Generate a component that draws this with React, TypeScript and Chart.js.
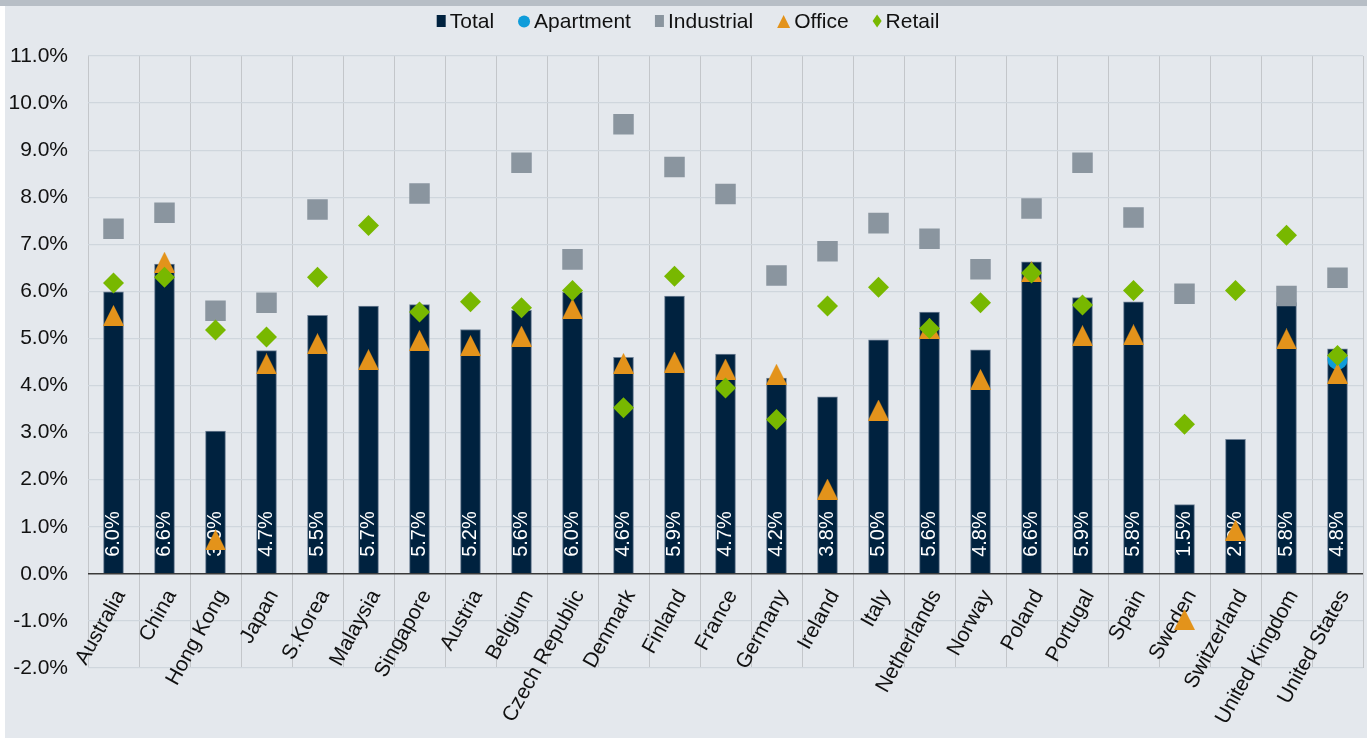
import React, { useEffect, useRef } from 'react';
import { Chart, registerables } from 'chart.js';

Chart.register(...registerables);

const FONT = "'Liberation Sans', Arial, Helvetica, sans-serif";

const categories = [
  'Australia', 'China', 'Hong Kong', 'Japan', 'S.Korea', 'Malaysia', 'Singapore',
  'Austria', 'Belgium', 'Czech Republic', 'Denmark', 'Finland', 'France', 'Germany',
  'Ireland', 'Italy', 'Netherlands', 'Norway', 'Poland', 'Portugal', 'Spain', 'Sweden',
  'Switzerland', 'United Kingdom', 'United States',
];

const totalValues = [
  5.99, 6.58, 3.03, 4.74, 5.49, 5.69, 5.72, 5.19, 5.6, 5.98, 4.6, 5.9, 4.67, 4.16,
  3.76, 4.97, 5.56, 4.76, 6.63, 5.87, 5.78, 1.47, 2.86, 5.76, 4.78,
];

const apartmentValues = [
  null, null, null, null, null, null, null, null, null, null, null, null, null, null,
  null, null, null, null, null, null, null, null, null, null, 4.55,
];

const industrialValues = [
  7.33, 7.67, 5.59, 5.76, 7.74, null, 8.08, null, 8.73, 6.68, 9.55, 8.64, 8.07, 6.34,
  6.85, 7.45, 7.12, 6.47, 7.76, 8.73, 7.57, 5.95, null, 5.9, 6.29,
];

const officeValues = [
  5.49, 6.62, 0.72, 4.46, 4.89, 4.55, 4.96, 4.85, 5.05, 5.63, 4.47, 4.5, 4.35, 4.24,
  1.8, 3.48, 5.22, 4.13, 6.42, 5.06, 5.08, -0.97, 0.93, 4.99, 4.26,
];

const retailValues = [
  6.18, 6.3, 5.18, 5.03, 6.3, 7.4, 5.56, 5.78, 5.65, 6.02, 3.53, 6.32, 3.95, 3.28,
  5.69, 6.09, 5.21, 5.76, 6.39, 5.71, 6.02, 3.18, 6.02, 7.19, 4.64,
];

const seriesNames = ['Total', 'Apartment', 'Industrial', 'Office', 'Retail'];
const Y_MIN = -2;
const Y_MAX = 11;
const Y_STEP = 1;

const COLORS = {
  total: '#00223f',
  apartment: '#0e9cda',
  industrial: '#8a959f',
  office: '#e3931b',
  retail: '#78b800',
};

const LEGEND_SHAPES = ['rect', 'circle', 'rect', 'triangle', 'diamond'];
const LEGEND_COLORS = [COLORS.total, COLORS.apartment, COLORS.industrial, COLORS.office, COLORS.retail];

function makeTriangle(size: number, color: string) {
  const c = document.createElement('canvas');
  c.width = size;
  c.height = size;
  const g = c.getContext('2d')!;
  g.fillStyle = color;
  g.beginPath();
  g.moveTo(size / 2, 0);
  g.lineTo(size, size);
  g.lineTo(0, size);
  g.closePath();
  g.fill();
  return c;
}

const legendPlugin = {
  id: 'customLegend',
  afterDraw(chart: any) {
    const ctx = chart.ctx;
    ctx.save();
    ctx.font = `21px ${FONT}`;
    ctx.textBaseline = 'middle';
    ctx.textAlign = 'left';
    const labels: string[] = chart.data.datasets.map((d: any) => d.label);
    const symW = LEGEND_SHAPES.map((s) => (s === 'circle' ? 12 : s === 'triangle' ? 13 : 9));
    const gap = 4;
    const itemGap = 24;
    const widths = labels.map((l, i) => symW[i] + gap + ctx.measureText(l).width);
    const total = widths.reduce((a, b) => a + b, 0) + itemGap * (labels.length - 1);
    let x = 683 - total / 2;
    const y = 15;
    labels.forEach((l, i) => {
      ctx.fillStyle = LEGEND_COLORS[i];
      const s = LEGEND_SHAPES[i];
      const w = symW[i];
      ctx.beginPath();
      if (s === 'rect') {
        ctx.rect(x, y - 6, w, 12);
      } else if (s === 'circle') {
        ctx.arc(x + 6, y + 0.5, 6, 0, Math.PI * 2);
      } else if (s === 'triangle') {
        ctx.moveTo(x + w / 2, y - 6);
        ctx.lineTo(x + w, y + 7);
        ctx.lineTo(x, y + 7);
        ctx.closePath();
      } else {
        ctx.moveTo(x + w / 2, y - 6.5);
        ctx.lineTo(x + w, y);
        ctx.lineTo(x + w / 2, y + 6.5);
        ctx.lineTo(x, y);
        ctx.closePath();
      }
      ctx.fill();
      ctx.fillStyle = '#111111';
      ctx.fillText(l, x + w + gap, y + 1);
      x += widths[i] + itemGap;
    });
    ctx.restore();
  },
};

const categoryLabelPlugin = {
  id: 'categoryLabels',
  beforeDatasetsDraw(chart: any) {
    const ctx = chart.ctx;
    const xs = chart.scales.x;
    const ys = chart.scales.y;
    const y0 = ys.getPixelForValue(0);
    ctx.save();
    ctx.font = `21px ${FONT}`;
    ctx.fillStyle = '#111111';
    ctx.textAlign = 'right';
    ctx.textBaseline = 'middle';
    (chart.data.labels as string[]).forEach((c, i) => {
      const x = xs.getPixelForValue(i);
      ctx.save();
      ctx.translate(x + 7, y0 + 18);
      ctx.rotate((-61 * Math.PI) / 180);
      ctx.fillText(c, 0, 0);
      ctx.restore();
    });
    ctx.restore();
  },
};

const barLabelPlugin = {
  id: 'barLabels',
  afterDatasetDraw(chart: any, args: any) {
    if (args.index !== 0) return;
    const ctx = chart.ctx;
    const ys = chart.scales.y;
    const y0 = ys.getPixelForValue(0);
    const values = chart.data.datasets[0].data as number[];
    ctx.save();
    ctx.font = `20px ${FONT}`;
    ctx.fillStyle = '#ffffff';
    ctx.textAlign = 'left';
    ctx.textBaseline = 'middle';
    args.meta.data.forEach((bar: any, i: number) => {
      ctx.save();
      ctx.translate(bar.x, y0 - 17);
      ctx.rotate(-Math.PI / 2);
      ctx.fillText(values[i].toFixed(1) + '%', 0, 0);
      ctx.restore();
    });
    ctx.restore();
  },
};

export default function App() {
  const ref = useRef<HTMLCanvasElement | null>(null);

  useEffect(() => {
    if (!ref.current) return;
    const tri = makeTriangle(21, COLORS.office);
    const markerBase = {
      type: 'line' as const,
      showLine: false,
      pointBorderWidth: 0,
      pointHoverRadius: 0,
    };
    const chart = new Chart(ref.current, {
      type: 'bar',
      data: {
        labels: categories,
        datasets: [
          {
            label: seriesNames[0],
            data: totalValues,
            backgroundColor: COLORS.total,
            borderColor: '#6f8196',
            borderWidth: 1,
            barThickness: 20,
            order: 5,
          } as any,
          {
            ...markerBase,
            label: seriesNames[1],
            data: apartmentValues,
            pointStyle: 'circle',
            pointRadius: 10,
            pointBackgroundColor: COLORS.apartment,
            borderColor: COLORS.apartment,
            backgroundColor: COLORS.apartment,
            order: 4,
          },
          {
            ...markerBase,
            label: seriesNames[2],
            data: industrialValues,
            pointStyle: 'rect',
            pointRadius: 14.5,
            pointBackgroundColor: COLORS.industrial,
            borderColor: COLORS.industrial,
            backgroundColor: COLORS.industrial,
            order: 3,
          },
          {
            ...markerBase,
            label: seriesNames[3],
            data: officeValues,
            pointStyle: tri,
            pointRadius: 10,
            pointBackgroundColor: COLORS.office,
            borderColor: COLORS.office,
            backgroundColor: COLORS.office,
            order: 2,
          },
          {
            ...markerBase,
            label: seriesNames[4],
            data: retailValues,
            pointStyle: 'rectRot',
            pointRadius: 10.5,
            pointBackgroundColor: COLORS.retail,
            borderColor: COLORS.retail,
            backgroundColor: COLORS.retail,
            order: 1,
          },
        ] as any,
      },
      options: {
        responsive: false,
        animation: false,
        devicePixelRatio: 1,
        layout: { autoPadding: false, padding: { top: 50, left: 0, right: 4, bottom: 70 } },
        plugins: {
          legend: { display: false },
          tooltip: { enabled: false },
        },
        scales: {
          x: {
            type: 'category',
            offset: true,
            grid: { offset: true, color: '#c3c6ca', lineWidth: 1, drawTicks: false },
            border: { display: false },
            ticks: { display: false },
            afterFit: (s: any) => {
              s.height = 0;
            },
          },
          y: {
            min: Y_MIN,
            max: Y_MAX,
            ticks: {
              stepSize: Y_STEP,
              callback: (v: any) => Number(v).toFixed(1) + '%',
              color: '#111111',
              font: { family: FONT, size: 21 },
              padding: 20,
            },
            grid: {
              color: (c: any) => (c.tick && c.tick.value === 0 ? '#3a3a3a' : '#cfd6dd'),
              lineWidth: (c: any) => (c.tick && c.tick.value === 0 ? 1.6 : 1.2),
              drawTicks: false,
            },
            border: { display: false },
            afterFit: (s: any) => {
              s.width = 83;
            },
          },
        },
      } as any,
      plugins: [legendPlugin, categoryLabelPlugin, barLabelPlugin],
    });
    return () => chart.destroy();
  }, []);

  return (
    <div style={{ position: 'absolute', left: 0, top: 0, width: 1367, height: 738, background: '#ffffff', overflow: 'hidden' }}>
      <div style={{ position: 'absolute', left: 0, top: 0, width: 1367, height: 6, background: '#b7bec6' }} />
      <div style={{ position: 'absolute', left: 5, top: 6, width: 1362, height: 732, background: '#e4e8ed' }}>
        <canvas ref={ref} width={1362} height={732} style={{ display: 'block', width: 1362, height: 732 }} />
      </div>
    </div>
  );
}
